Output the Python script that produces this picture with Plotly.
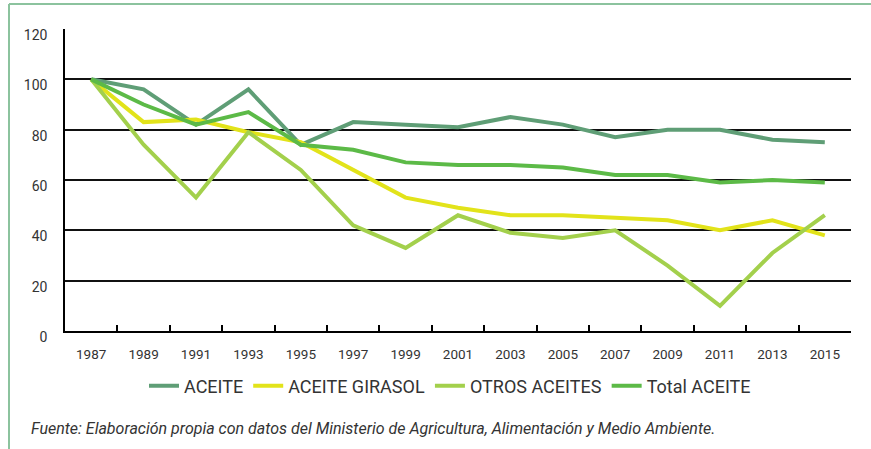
import plotly.graph_objects as go

years = ["1987", "1989", "1991", "1993", "1995", "1997", "1999", "2001",
         "2003", "2005", "2007", "2009", "2011", "2013", "2015"]
aceite = [100, 96, 82, 96, 74, 83, 82, 81, 85, 82, 77, 80, 80, 76, 75]
aceite_girasol = [100, 83, 84, 79, 75, 64, 53, 49, 46, 46, 45, 44, 40, 44, 38]
otros_aceites = [100, 74, 53, 79, 64, 42, 33, 46, 39, 37, 40, 26, 10, 31, 46]
total_aceite = [100, 90, 82, 87, 74, 72, 67, 66, 66, 65, 62, 62, 59, 60, 59]
y_ticks = [0, 20, 40, 60, 80, 100, 120]

series = [
    ("ACEITE", aceite, "#5f9e76"),
    ("ACEITE GIRASOL", aceite_girasol, "#e2e31a"),
    ("OTROS ACEITES", otros_aceites, "#a3d04c"),
    ("Total ACEITE", total_aceite, "#5cba47"),
]

FONT = "Roboto"

fig = go.Figure()
for name, vals, col in series:
    fig.add_trace(go.Scatter(x=years, y=vals, name=name, mode="lines",
                             line=dict(color=col, width=4)))

L, R, T, B = 65, 20, 29, 118
W, H = 871, 449
pw = W - L - R
ph = H - T - B

def px_x(x):
    return (x - L) / pw

def px_y(y):
    return (H - B - y) / ph

frame_col = "#8cc39e"
fig.add_shape(type="line", xref="paper", yref="paper",
              x0=px_x(9), x1=px_x(880), y0=px_y(4), y1=px_y(4),
              line=dict(color=frame_col, width=2))
fig.add_shape(type="line", xref="paper", yref="paper",
              x0=px_x(9), x1=px_x(9), y0=px_y(4), y1=px_y(460),
              line=dict(color=frame_col, width=2))

fig.add_annotation(xref="paper", yref="paper", x=px_x(29), y=px_y(428),
                   xanchor="left", yanchor="middle", showarrow=False,
                   text="<i>Fuente: Elaboración propia con datos del Ministerio de Agricultura, Alimentación y Medio Ambiente.</i>",
                   font=dict(size=16, color="#333333", family=FONT))

fig.update_layout(
    width=W, height=H,
    margin=dict(l=L, r=R, t=T, b=B, autoexpand=False),
    paper_bgcolor="white", plot_bgcolor="white",
    font=dict(family=FONT, color="#333333", size=13.5),
    showlegend=True,
    legend=dict(orientation="h", x=px_x(450), xanchor="center",
                y=px_y(386), yanchor="middle",
                font=dict(size=18, color="#333333", family=FONT),
                itemwidth=30, bgcolor="rgba(0,0,0,0)"),
    xaxis=dict(type="category", range=[-0.5, 14.5], showgrid=False,
               automargin=False,
               showline=True, linecolor="black", linewidth=1.5,
               ticks="inside", tickson="boundaries", ticklen=6,
               tickcolor="black", tickwidth=1.5,
               ticklabelstandoff=10, tickfont=dict(size=13.5, color="#333333")),
    yaxis=dict(range=[0, 120], tickvals=y_ticks, showgrid=True,
               automargin=False,
               gridcolor="#111111", gridwidth=1.5,
               showline=True, linecolor="black", linewidth=1.5,
               ticks="", zeroline=False, ticklabelshift=6,
               ticklabelstandoff=13, tickfont=dict(size=14, color="#333333")),
)

fig.write_html("out.html", config={"displayModeBar": False},
               post_script="document.body.style.margin='0px';")
